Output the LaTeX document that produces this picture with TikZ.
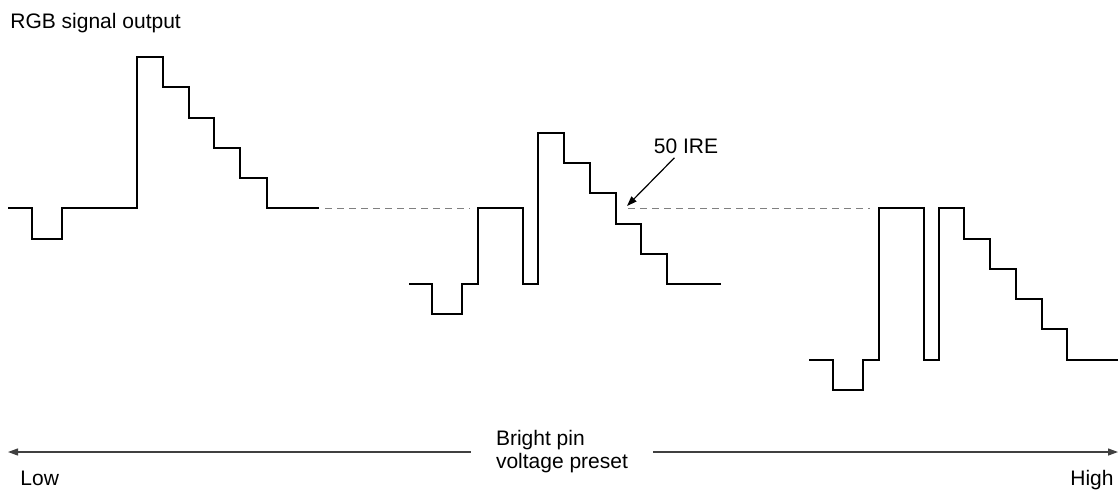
\documentclass[tikz,border=0pt]{standalone}
\usepackage{fontspec}
\setmainfont{Liberation Sans}
\usetikzlibrary{arrows.meta}
\tikzset{
  sig/.style={line width=1pt},
  refline/.style={gray, line width=0.5pt, dash pattern=on 3.5pt off 2.5pt},
  presetarrow/.style={darkgray, line width=0.6pt, -{Triangle[length=5pt,width=3.5pt]}},
  every node/.style={font=\fontsize{10.5}{11.5}\selectfont}
}
\begin{document}
\begin{tikzpicture}[x=0.5pt, y=-0.5pt]
\useasboundingbox (0,0) rectangle (1119,489);
\node[anchor=base west, inner sep=0] (title) at (10,28) {RGB signal output};
\draw[sig] (8,208) -| (32,239) -| (62,208) -| (137,57) -| (163,87) -| (189,118) -| (214,148) -| (240,178) -| (267,208) -- (319,208);
\draw[sig] (409,284) -| (432,314) -| (462,284) -| (478,208) -| (523,284) -| (538,133) -| (564,163) -| (590,193) -| (616,224) -| (641,254) -| (667,284) -- (721,284);
\draw[sig] (809,360) -| (833,390) -| (863,360) -| (879,208) -| (924,360) -| (939,208) -| (964,239) -| (990,269) -| (1016,299) -| (1042,329) -| (1067,360) -- (1118,360);
\draw[refline] (325,208) -- (470,208);
\draw[refline] (628,208) -- (870,208);
\node[inner sep=2pt] (ire) at (686,146) {50 IRE};
\coordinate (lvl50) at (627,206);
\draw[line width=0.6pt, -{Triangle[length=5pt,width=3.5pt]}] (ire) -- (lvl50);
\node[align=left, inner xsep=12.5pt, inner ysep=0pt] (preset) at (562,452) {Bright pin\\voltage preset};
\coordinate (lowend) at (8,452);
\coordinate (highend) at (1118,452);
\draw[presetarrow] (preset.west) -- (lowend);
\draw[presetarrow] (preset.east) -- (highend);
\node[anchor=base west, inner sep=0] (low) at (20,485) {Low};
\node[anchor=base east, inner sep=0] (high) at (1114,485) {High};
\end{tikzpicture}
\end{document}
